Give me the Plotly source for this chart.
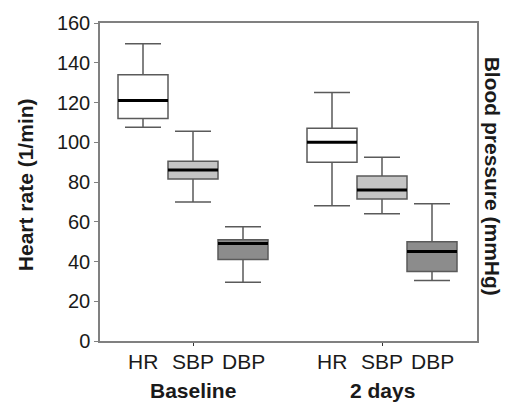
import plotly.graph_objects as go

# ---- data ----
groups = ["Baseline", "2 days"]
measures = ["HR", "SBP", "DBP"]
# per measure: values for [Baseline, 2 days]
lower = {"HR": [107.5, 68], "SBP": [70, 64], "DBP": [29.5, 30.5]}
q1 = {"HR": [112, 90], "SBP": [81.5, 71.5], "DBP": [41, 35]}
median = {"HR": [121, 100], "SBP": [86, 76], "DBP": [49, 45]}
q3 = {"HR": [134, 107], "SBP": [90.5, 83], "DBP": [51, 50]}
upper = {"HR": [149.5, 125], "SBP": [105.5, 92.5], "DBP": [57.5, 69]}
y_ticks = [0, 20, 40, 60, 80, 100, 120, 140, 160]

fills = {"HR": "#ffffff", "SBP": "#c4c4c4", "DBP": "#8c8c8c"}
group_start = [0, 3.78]
box_w = 1.0

def pos(gi, mi):
    return group_start[gi] + mi

fig = go.Figure()
for mi, m in enumerate(measures):
    xs = [pos(gi, mi) for gi in range(len(groups))]
    fig.add_trace(go.Box(
        x=xs, q1=q1[m], median=median[m], q3=q3[m],
        lowerfence=lower[m], upperfence=upper[m],
        fillcolor=fills[m], line=dict(color="#5a5a5a", width=1.5),
        width=box_w, whiskerwidth=0.72, boxpoints=False, showlegend=False,
        name=m))

# thick median lines
mx, my = [], []
for mi, m in enumerate(measures):
    for gi in range(len(groups)):
        c = pos(gi, mi)
        mx += [c - box_w / 2, c + box_w / 2, None]
        my += [median[m][gi], median[m][gi], None]
fig.add_trace(go.Scatter(x=mx, y=my, mode="lines", line=dict(color="black", width=3),
                         showlegend=False, hoverinfo="skip"))

fam = "Liberation Sans, Arial, sans-serif"
tick_font = dict(family=fam, size=20, color="#1a1a1a")
lab_font = dict(family=fam, size=21, color="#1a1a1a")
ann = []
for gi, g in enumerate(groups):
    for mi, m in enumerate(measures):
        ann.append(dict(x=pos(gi, mi), y=0, xref="x", yref="paper", yanchor="top",
                        xanchor="center", yshift=-7, text=m, showarrow=False, font=lab_font))
    ann.append(dict(x=pos(gi, 1), y=0, xref="x", yref="paper", yanchor="top",
                    xanchor="center", yshift=-36, text="<b>%s</b>" % g, showarrow=False,
                    font=lab_font))
ann.append(dict(x=0, y=0.49, xref="paper", yref="paper", xshift=-75, textangle=-90,
                xanchor="center", yanchor="middle",
                text="<b>Heart rate (1/min)</b>", showarrow=False, font=lab_font))
ann.append(dict(x=1, y=0.52, xref="paper", yref="paper", xshift=15, textangle=90,
                xanchor="center", yanchor="middle",
                text="<b>Blood pressure (mmHg)</b>", showarrow=False, font=lab_font))

fig.update_layout(
    width=515, height=404, margin=dict(l=100, r=38, t=20, b=63),
    paper_bgcolor="white", plot_bgcolor="white",
    boxmode="overlay", annotations=ann, font=tick_font,
    xaxis=dict(range=[-0.86, 6.68], showgrid=False, zeroline=False,
               showline=True, mirror=True, linecolor="#808080", linewidth=1.5,
               tickvals=[pos(0, 1), pos(1, 1)], ticktext=["", ""],
               ticks="outside", ticklen=3, tickcolor="#333"),
    yaxis=dict(range=[0, 160], tickvals=y_ticks, showgrid=False, zeroline=False,
               showline=True, mirror=True, linecolor="#808080", linewidth=1.5,
               ticks="outside", ticklen=4, tickcolor="#808080", tickfont=tick_font),
)
fig.write_html("out.html")
